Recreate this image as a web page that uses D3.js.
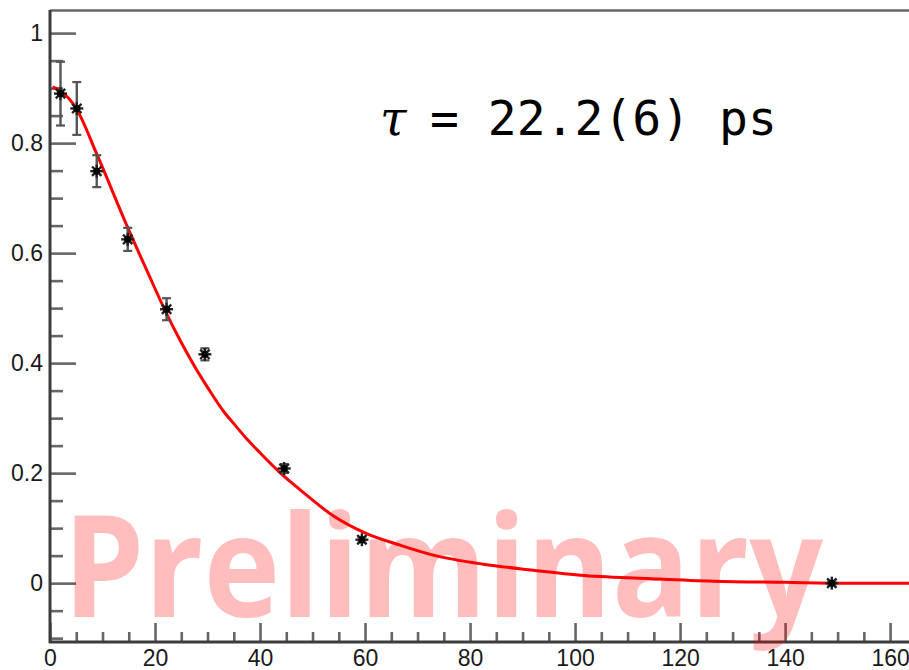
<!DOCTYPE html>
<html>
<head>
<meta charset="utf-8">
<script src="https://cdn.jsdelivr.net/npm/d3@7"></script>
<style>
  html, body { margin: 0; padding: 0; background: #fff; }
  svg { display: block; }
</style>
</head>
<body>
<svg id="chart" width="909" height="670"></svg>
<script>
// Measured decay data: time (ps), fraction, uncertainty
const timeVals  = [2.0, 5.1, 8.9, 14.8, 22.2, 29.5, 44.6, 59.4, 148.9];
const fracVals  = [0.890, 0.863, 0.749, 0.625, 0.498, 0.416, 0.2085, 0.079, 0.0];
const fracErrs  = [0.058, 0.048, 0.029, 0.021, 0.020, 0.011, 0.008, 0.005, 0.004];

// Fitted decay curve
const fitTime = [0.5, 2, 5, 9, 14.6, 18.7, 22.2, 24.8, 27.3, 30, 33, 35, 37.5, 40, 43.8, 47.6, 54, 60.3, 66.7, 73, 82.5, 92, 101, 113.7, 126.3, 140, 151.7, 163.6];
const fitFrac = [0.902, 0.895, 0.863, 0.778, 0.651, 0.563, 0.490, 0.441, 0.398, 0.356, 0.313, 0.290, 0.262, 0.237, 0.201, 0.170, 0.122, 0.090, 0.069, 0.051, 0.0345, 0.0236, 0.0145, 0.0085, 0.0035, 0.0015, 0.0, 0.0];

const yMajorTicks = [0, 0.2, 0.4, 0.6, 0.8, 1];
const xMajorTicks = [0, 20, 40, 60, 80, 100, 120, 140, 160];
const lifetimeLabel = "= 22.2(6) ps";
const watermark = "Preliminary";

const svg = d3.select("#chart");
const plotLeft = 50, plotRight = 909, plotTop = 10, plotBottom = 642;

const x = d3.scaleLinear().domain([0, 163.6]).range([plotLeft, plotRight]);
const y = d3.scaleLinear().domain([-0.107, 1.042]).range([plotBottom, plotTop]);

const axisColor = "#3c3c3c";
const tickColor = "#666";

// top frame line
svg.append("line")
  .attr("x1", plotLeft).attr("x2", plotRight)
  .attr("y1", plotTop + 0.5).attr("y2", plotTop + 0.5)
  .attr("stroke", tickColor).attr("stroke-width", 2.5);

// y axis: minor ticks
const yMinor = d3.range(-0.1, 1.0001, 0.05).filter(v => !yMajorTicks.some(m => Math.abs(m - v) < 1e-6));
svg.append("g")
  .attr("transform", `translate(${plotLeft},0)`)
  .call(d3.axisLeft(y).tickValues(yMinor).tickSizeInner(-13).tickSizeOuter(0).tickFormat(""))
  .call(g => g.select(".domain").remove())
  .call(g => g.selectAll(".tick line").attr("stroke", tickColor).attr("stroke-width", 2.6));

// y axis: major ticks with labels
svg.append("g")
  .attr("transform", `translate(${plotLeft},0)`)
  .call(d3.axisLeft(y).tickValues(yMajorTicks).tickSizeInner(-26).tickSizeOuter(0).tickPadding(7)
    .tickFormat(d => String(+d.toFixed(1))))
  .call(g => g.select(".domain").remove())
  .call(g => g.selectAll(".tick line").attr("stroke", tickColor).attr("stroke-width", 2.6))
  .call(g => g.selectAll(".tick text")
    .attr("fill", "#1a1a1a")
    .style("font-family", "'Liberation Sans', Arial, sans-serif")
    .style("font-size", "23px"));

// x axis: minor ticks
const xMinor = d3.range(5, 163, 5).filter(v => v % 20 !== 0);
svg.append("g")
  .attr("transform", `translate(0,${plotBottom})`)
  .call(d3.axisBottom(x).tickValues(xMinor).tickSizeInner(-10).tickSizeOuter(0).tickFormat(""))
  .call(g => g.select(".domain").remove())
  .call(g => g.selectAll(".tick line").attr("stroke", tickColor).attr("stroke-width", 2.6));

// x axis: major ticks with labels
svg.append("g")
  .attr("transform", `translate(0,${plotBottom})`)
  .call(d3.axisBottom(x).tickValues(xMajorTicks).tickSizeInner(-19).tickSizeOuter(0).tickPadding(8))
  .call(g => g.select(".domain").remove())
  .call(g => g.selectAll(".tick line").attr("stroke", tickColor).attr("stroke-width", 2.6))
  .call(g => g.selectAll(".tick text")
    .attr("fill", "#1a1a1a")
    .style("font-family", "'Liberation Sans', Arial, sans-serif")
    .style("font-size", "23px"));

// axis lines
svg.append("line")
  .attr("x1", plotLeft).attr("x2", plotLeft).attr("y1", plotTop).attr("y2", plotBottom + 1)
  .attr("stroke", axisColor).attr("stroke-width", 3);
svg.append("line")
  .attr("x1", plotLeft - 1).attr("x2", plotRight).attr("y1", plotBottom).attr("y2", plotBottom)
  .attr("stroke", axisColor).attr("stroke-width", 3);

// fit curve
const fitData = fitTime.map((t, i) => [t, fitFrac[i]]);
svg.append("path")
  .datum(fitData)
  .attr("fill", "none")
  .attr("stroke", "#ff0000")
  .attr("stroke-width", 3)
  .attr("stroke-linejoin", "round")
  .attr("d", d3.line().x(d => x(d[0])).y(d => y(d[1])).curve(d3.curveMonotoneX));

// data points with error bars
const pts = timeVals.map((t, i) => ({ t, f: fracVals[i], e: fracErrs[i] }));
const pg = svg.append("g").selectAll("g").data(pts).join("g")
  .attr("transform", d => `translate(${x(d.t)},${y(d.f)})`);

pg.append("line")
  .attr("x1", 0).attr("x2", 0)
  .attr("y1", d => y(d.f + d.e) - y(d.f)).attr("y2", d => y(d.f - d.e) - y(d.f))
  .attr("stroke", "#555").attr("stroke-width", 2.4);
pg.each(function(d) {
  const g = d3.select(this);
  [d.f + d.e, d.f - d.e].forEach(v => {
    g.append("line")
      .attr("x1", -4.5).attr("x2", 4.5)
      .attr("y1", y(v) - y(d.f)).attr("y2", y(v) - y(d.f))
      .attr("stroke", "#555").attr("stroke-width", 2.2);
  });
});
// star markers
const r = 6.5;
[[-r, 0, r, 0], [0, -r, 0, r], [-r * 0.72, -r * 0.72, r * 0.72, r * 0.72], [-r * 0.72, r * 0.72, r * 0.72, -r * 0.72]]
  .forEach(s => {
    pg.append("line")
      .attr("x1", s[0]).attr("y1", s[1]).attr("x2", s[2]).attr("y2", s[3])
      .attr("stroke", "#222").attr("stroke-width", 2.4);
  });
pg.append("circle").attr("r", 3.5).attr("fill", "#000");

// lifetime annotation
const ann = svg.append("text")
  .attr("y", 135)
  .attr("fill", "#000")
  .style("font-family", "'DejaVu Sans Mono', monospace")
  .style("font-size", "48px");
ann.append("tspan")
  .attr("x", 380)
  .style("font-family", "'DejaVu Serif', serif")
  .style("font-style", "italic")
  .text("τ");
ann.append("tspan")
  .attr("x", 430)
  .text(lifetimeLabel);

// watermark overlay
svg.append("text")
  .attr("x", 63)
  .attr("y", 617)
  .attr("fill", "rgba(255,0,0,0.26)")
  .attr("textLength", 760)
  .attr("lengthAdjust", "spacingAndGlyphs")
  .style("font-family", "'Open Sans', 'Noto Sans', sans-serif")
  .style("font-weight", 700)
  .style("font-size", "142px")
  .text(watermark);
</script>
</body>
</html>
